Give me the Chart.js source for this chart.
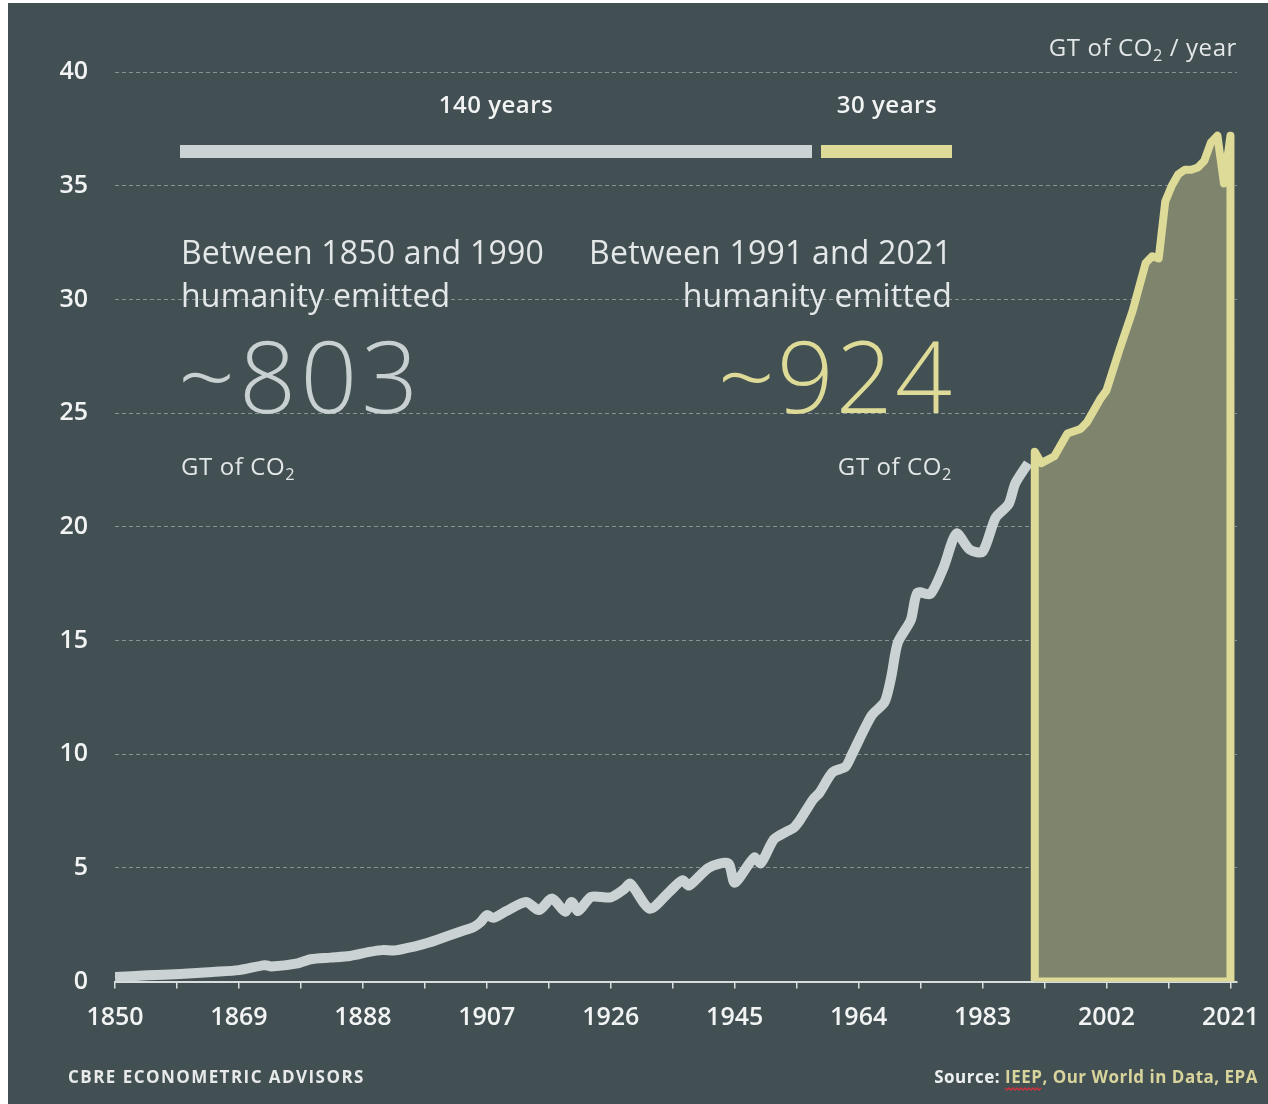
<!DOCTYPE html>
<html>
<head>
<meta charset="utf-8">
<script src="https://cdn.jsdelivr.net/npm/chart.js@4.4.0/dist/chart.umd.min.js"></script>
<style>
  html, body { margin: 0; padding: 0; background: #ffffff; }
  #wrap { position: absolute; left: 8px; top: 3px; width: 1260px; height: 1101px; background: #425053; }
  canvas { display: block; }
</style>
</head>
<body>
<div id="wrap"><canvas id="co2_chart" width="1260" height="1101"></canvas></div>
<script>
// annual CO2 emissions, GT / year
var grayYears = [1850, 1855, 1860, 1865, 1869, 1873, 1874, 1878, 1880, 1883, 1886, 1889, 1891, 1893,
    1896, 1898, 1901, 1903, 1905, 1906, 1907, 1908, 1910, 1913, 1915, 1917, 1919, 1920, 1921, 1923,
    1926, 1928, 1929, 1932, 1935, 1937, 1938, 1941, 1944, 1945, 1948, 1949, 1951, 1953, 1954, 1955,
    1957, 1958, 1960, 1962, 1963, 1966, 1968, 1969, 1970, 1972, 1973, 1975, 1977, 1979, 1981, 1983,
    1985, 1987, 1988, 1990];
var grayValues = [0.2, 0.27, 0.33, 0.42, 0.5, 0.72, 0.66, 0.8, 0.98, 1.05, 1.12, 1.3, 1.38, 1.37,
    1.55, 1.7, 2.0, 2.2, 2.4, 2.6, 2.92, 2.8, 3.1, 3.5, 3.14, 3.65, 3.07, 3.5, 3.1, 3.72,
    3.7, 4.05, 4.3, 3.2, 3.95, 4.45, 4.22, 5.0, 5.2, 4.35, 5.45, 5.2, 6.25, 6.6, 6.75, 7.1,
    8.0, 8.3, 9.2, 9.45, 10.0, 11.7, 12.3, 13.4, 14.9, 15.9, 17.1, 17.05, 18.2, 19.7, 19.0, 18.9,
    20.4, 21.0, 21.9, 22.8];

var yellowYears = [1991, 1992, 1994, 1996, 1998, 1999, 2001, 2002, 2004, 2006, 2008, 2009, 2010,
    2011, 2012, 2013, 2014, 2015, 2016, 2017, 2018, 2019, 2020, 2021];
var yellowValues = [23.3, 22.8, 23.1, 24.1, 24.3, 24.6, 25.6, 26.0, 27.8, 29.5, 31.6, 31.9, 31.8,
    34.3, 35.0, 35.5, 35.7, 35.7, 35.8, 36.1, 36.9, 37.2, 35.1, 37.2];

var axisYears = [1850, 1869, 1888, 1907, 1926, 1945, 1964, 1983, 2002, 2021];
var yTicks = [0, 5, 10, 15, 20, 25, 30, 35, 40];

var GRAY = '#cbd2d3';
var YELLOW = '#dedb98';
var TEXT = '#e4e7e7';

function drawRich(ctx, parts, x, y, align, size, weight, family, spacing) {
    // parts: [{t, sub, color}], subscript drawn smaller and lower
    ctx.letterSpacing = (spacing || 0) + 'px';
    var widths = parts.map(function (p) {
        var s = p.sub ? size * 0.68 : size;
        ctx.font = weight + ' ' + s + 'px ' + family;
        return ctx.measureText(p.t).width;
    });
    var total = widths.reduce(function (a, b) { return a + b; }, 0);
    var cx = align === 'right' ? x - total : (align === 'center' ? x - total / 2 : x);
    ctx.textAlign = 'left';
    ctx.textBaseline = 'alphabetic';
    parts.forEach(function (p, i) {
        var s = p.sub ? size * 0.68 : size;
        ctx.font = weight + ' ' + s + 'px ' + family;
        ctx.fillStyle = p.color || TEXT;
        ctx.fillText(p.t, cx, p.sub ? y + size * 0.22 : y);
        cx += widths[i];
    });
    ctx.letterSpacing = '0px';
    return total;
}

var overlayText = {
    id: 'overlayText',
    afterDraw: function (chart) {
        var ctx = chart.ctx;
        ctx.save();
        var f = '"Open Sans", sans-serif';

        // unit label
        drawRich(ctx, [{t: 'GT of CO'}, {t: '2', sub: true}, {t: ' / year'}], 1229, 53, 'right', 24, '400', f, 0.6);

        // period bars
        ctx.fillStyle = GRAY;
        ctx.fillRect(172, 142, 632, 13);
        ctx.fillStyle = YELLOW;
        ctx.fillRect(813, 142, 131, 13);
        drawRich(ctx, [{t: '140 years', color: '#f2f3f3'}], 488, 110, 'center', 24, '600', f, 0.5);
        drawRich(ctx, [{t: '30 years', color: '#f2f3f3'}], 879, 110, 'center', 24, '600', f, 0.5);

        // left block
        drawRich(ctx, [{t: 'Between 1850 and 1990'}], 173, 261, 'left', 32, '400', f, 0.2);
        drawRich(ctx, [{t: 'humanity emitted'}], 173, 304, 'left', 32, '400', f, 0.2);
        drawRich(ctx, [{t: '~803', color: '#c9d0d1'}], 170, 410, 'left', 100, '300', f, 4);
        drawRich(ctx, [{t: 'GT of CO'}, {t: '2', sub: true}], 173, 472, 'left', 24, '400', f, 0.6);

        // right block
        drawRich(ctx, [{t: 'Between 1991 and 2021'}], 944, 261, 'right', 32, '400', f, 0.2);
        drawRich(ctx, [{t: 'humanity emitted'}], 944, 304, 'right', 32, '400', f, 0.2);
        drawRich(ctx, [{t: '~924', color: YELLOW}], 946, 410, 'right', 100, '300', f, 2);
        drawRich(ctx, [{t: 'GT of CO'}, {t: '2', sub: true}], 944, 472, 'right', 24, '400', f, 0.6);

        // footer
        drawRich(ctx, [{t: 'CBRE ECONOMETRIC ADVISORS', color: '#e8eaea'}], 60, 1080, 'left', 17, '700', f, 1.45);
        var srcParts = [{t: 'Source: ', color: '#eef0f0'}, {t: 'IEEP', color: '#d8d49c'},
            {t: ', Our World in Data, EPA', color: '#d8d49c'}];
        var w = drawRich(ctx, srcParts, 1250, 1080, 'right', 17, '700', f, 0.5);
        ctx.font = '700 17px ' + f;
        ctx.letterSpacing = '0.5px';
        var sx = 1250 - w + ctx.measureText('Source: ').width;
        var iw = ctx.measureText('IEEP').width;
        ctx.letterSpacing = '0px';
        ctx.strokeStyle = '#d0313a';
        ctx.lineWidth = 1.3;
        ctx.beginPath();
        for (var k = 0; k <= iw; k += 2) {
            var yy = 1085 + (k % 4 === 0 ? 0 : 2);
            if (k === 0) ctx.moveTo(sx + k, yy); else ctx.lineTo(sx + k, yy);
        }
        ctx.stroke();
        ctx.restore();
    }
};

function buildChart() {
    var grayData = grayYears.map(function (yr, i) { return {x: yr, y: grayValues[i]}; });
    var yellowData = yellowYears.map(function (yr, i) { return {x: yr, y: yellowValues[i]}; });
    var first = yellowYears[0], last = yellowYears[yellowYears.length - 1];
    yellowData.unshift({x: first, y: 0});
    yellowData.push({x: last, y: 0});
    yellowData.push({x: first, y: 0});

    var tickValues = [];
    axisYears.forEach(function (yr, i) {
        tickValues.push(yr);
        if (i < axisYears.length - 1) tickValues.push((yr + axisYears[i + 1]) / 2);
    });

    new Chart(document.getElementById('co2_chart'), {
        type: 'line',
        data: {
            datasets: [{
                label: '1991-2021',
                data: yellowData,
                borderColor: YELLOW,
                backgroundColor: '#7f856c',
                borderWidth: 8,
                borderJoinStyle: 'round',
                fill: 'shape',
                tension: 0,
                pointRadius: 0,
                clip: 0,
                order: 1
            }, {
                label: '1850-1990',
                data: grayData,
                borderColor: GRAY,
                borderWidth: 10,
                borderJoinStyle: 'round',
                fill: false,
                tension: 0.25,
                pointRadius: 0,
                clip: 0,
                order: 2
            }]
        },
        options: {
            responsive: false,
            animation: false,
            events: [],
            layout: { padding: { top: 69, right: 31, left: 0, bottom: 0 } },
            plugins: { legend: { display: false }, tooltip: { enabled: false } },
            scales: {
                x: {
                    type: 'linear',
                    min: 1850,
                    max: 2022,
                    afterBuildTicks: function (scale) {
                        scale.ticks = tickValues.map(function (v) { return {value: v}; });
                    },
                    afterFit: function (scale) {
                        // keep the plot edges fixed, labels may overhang into the padding
                        scale.height = 122.5;
                        scale.paddingLeft = 0;
                        scale.paddingRight = 0;
                    },
                    grid: {
                        drawOnChartArea: false,
                        drawTicks: true,
                        tickLength: 7,
                        color: '#d9dddd',
                        lineWidth: 1.5
                    },
                    border: { display: true, color: '#d9dddd', width: 2 },
                    ticks: {
                        autoSkip: false,
                        maxRotation: 0,
                        padding: 14,
                        color: '#f2f3f3',
                        font: { family: '"Open Sans", sans-serif', size: 25, weight: '600' },
                        callback: function (v) {
                            return axisYears.indexOf(v) >= 0 ? String(v) : '';
                        }
                    }
                },
                y: {
                    min: 0,
                    max: 40,
                    afterBuildTicks: function (scale) {
                        scale.ticks = yTicks.map(function (v) { return {value: v}; });
                    },
                    afterFit: function (scale) {
                        scale.width = 107;
                        scale.paddingTop = 0;
                        scale.paddingBottom = 0;
                    },
                    grid: {
                        drawTicks: false,
                        color: 'rgba(196, 202, 202, 0.55)',
                        lineWidth: 1
                    },
                    border: { display: false, dash: [4, 3] },
                    ticks: {
                        padding: 27,
                        color: '#f2f3f3',
                        font: { family: '"Open Sans", sans-serif', size: 25, weight: '600' }
                    }
                }
            }
        },
        plugins: [overlayText]
    });
}

Promise.all([
    document.fonts.load('300 100px "Open Sans"'),
    document.fonts.load('400 30px "Open Sans"'),
    document.fonts.load('600 22px "Open Sans"'),
    document.fonts.load('700 16px "Open Sans"')
]).then(buildChart, buildChart);
</script>
</body>
</html>
